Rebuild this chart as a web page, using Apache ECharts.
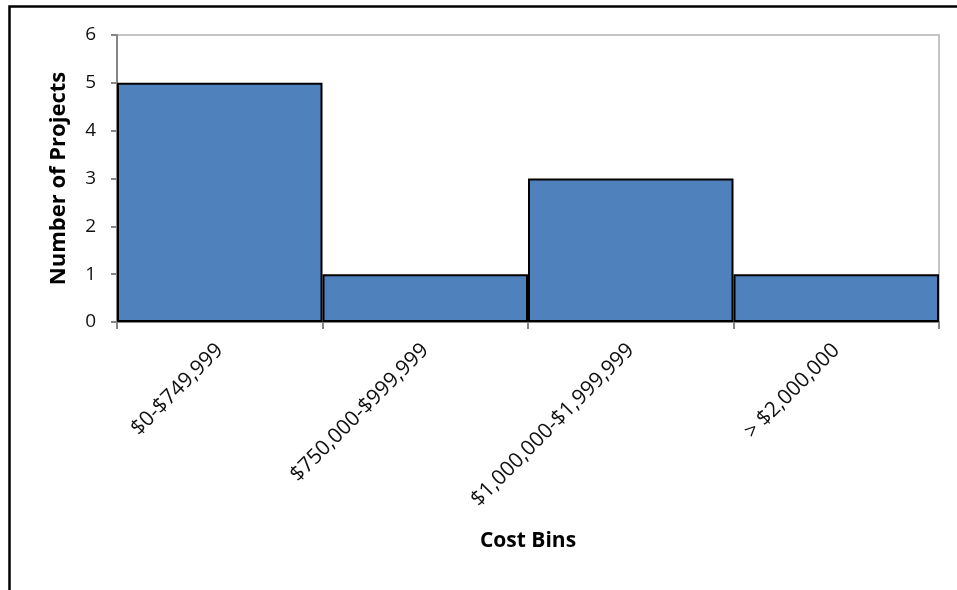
<!DOCTYPE html>
<html><head><meta charset="utf-8">
<script src="https://cdn.jsdelivr.net/npm/echarts@6/dist/echarts.min.js"></script>
<style>html,body{margin:0;padding:0;background:#fff}#c{width:957px;height:590px}</style>
</head><body><div id="c"></div>
<script>
const categories = ['$0-$749,999', '$750,000-$999,999', '$1,000,000-$1,999,999', '> $2,000,000'];
const projectCounts = [5, 1, 3, 1];
const yTicks = [0, 1, 2, 3, 4, 5, 6];

const chart = echarts.init(document.getElementById('c'), null, {renderer: 'canvas'});
const font = '"Open Sans", "Noto Sans", sans-serif';
chart.setOption({
  animation: false,
  backgroundColor: '#fff',
  graphic: [{
    type: 'rect', left: 7, top: 4, z: 100,
    shape: {x: 0, y: 0, width: 1000, height: 700},
    style: {fill: 'none', stroke: '#000', lineWidth: 2.5}
  }],
  grid: {left: 117, right: 18, top: 35, height: 287, show: true, borderColor: '#c4c4c4', borderWidth: 2, backgroundColor: 'transparent'},
  xAxis: {
    type: 'category', data: categories,
    name: 'Cost Bins', nameLocation: 'middle', nameGap: 209,
    nameTextStyle: {fontFamily: font, fontWeight: 'bold', fontSize: 21, color: '#000'},
    axisLine: {lineStyle: {color: '#868686', width: 2}},
    axisTick: {show: true, length: 7, lineStyle: {color: '#868686', width: 2}},
    axisLabel: {rotate: 45, margin: 25, fontFamily: font, fontSize: 21, color: '#111'}
  },
  yAxis: {
    type: 'value', min: yTicks[0], max: yTicks[yTicks.length - 1], interval: 1,
    name: 'Number of Projects', nameLocation: 'middle', nameGap: 47,
    nameTextStyle: {fontFamily: font, fontWeight: 'bold', fontSize: 22, color: '#000'},
    axisLine: {show: true, lineStyle: {color: '#868686', width: 2}},
    axisTick: {show: true, length: 6, lineStyle: {color: '#868686', width: 2}},
    axisLabel: {margin: 21, fontFamily: font, fontSize: 19, color: '#111'},
    splitLine: {show: false}
  },
  series: [{
    type: 'bar', data: projectCounts, barCategoryGap: '0%',
    itemStyle: {color: '#4f81bd', borderColor: '#000', borderWidth: 2}
  }]
});
</script></body></html>
